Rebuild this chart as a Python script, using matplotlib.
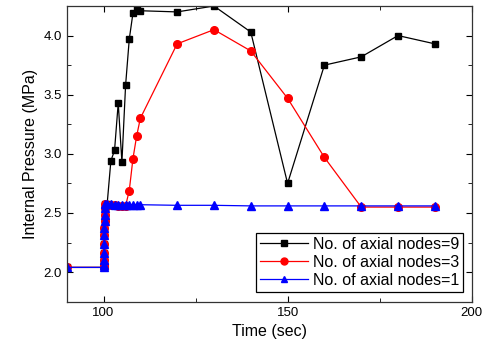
import numpy as np
import matplotlib
matplotlib.use('Agg')
import matplotlib.pyplot as plt
from matplotlib.ticker import MultipleLocator

plt.rcParams['font.family'] = ['Liberation Sans', 'DejaVu Sans']

# ── Data ──────────────────────────────────────────────────────────────────────
t_start   = [90.0, 100.0, 100.02, 100.05, 100.1, 100.15, 100.2, 100.25, 100.3, 100.35, 100.4, 100.5]
p_start   = [2.04, 2.04, 2.06, 2.10, 2.16, 2.24, 2.31, 2.37, 2.43, 2.48, 2.54, 2.58]

t_n9 = t_start + [101, 102, 103, 104, 105, 106, 107, 108, 109, 110, 120, 130, 140, 150, 160, 170, 180, 190]
p_n9 = p_start + [2.58, 2.94, 3.03, 3.43, 2.93, 3.58, 3.97, 4.19, 4.23, 4.21, 4.20, 4.25, 4.03, 2.75, 3.75, 3.82, 4.00, 3.93]

t_n3 = t_start + [101, 102, 103, 104, 105, 106, 107, 108, 109, 110, 120, 130, 140, 150, 160, 170, 180, 190]
p_n3 = p_start + [2.57, 2.57, 2.57, 2.56, 2.56, 2.56, 2.69, 2.96, 3.15, 3.30, 3.93, 4.05, 3.87, 3.47, 2.97, 2.55, 2.55, 2.55]

t_n1 = t_start + [101, 102, 103, 104, 105, 106, 107, 108, 109, 110, 120, 130, 140, 150, 160, 170, 180, 190]
p_n1 = p_start + [2.58, 2.575, 2.57, 2.57, 2.57, 2.57, 2.57, 2.57, 2.57, 2.57, 2.565, 2.565, 2.56, 2.56, 2.56, 2.56, 2.56, 2.56]

labels = ["No. of axial nodes=9", "No. of axial nodes=3", "No. of axial nodes=1"]

# ── Plot ──────────────────────────────────────────────────────────────────────
fig = plt.figure(figsize=(4.85, 3.53), dpi=100)
ax = fig.add_axes([0.1375, 0.1453, 0.835, 0.8377])

ax.plot(t_n9, p_n9, color='black', lw=0.9, marker='s', ms=5, label=labels[0])
ax.plot(t_n3, p_n3, color='red', lw=0.9, marker='o', ms=5.5, label=labels[1])
ax.plot(t_n1, p_n1, color='blue', lw=0.9, marker='^', ms=5.5, label=labels[2])

ax.set_xlim(90, 200)
ax.set_ylim(1.75, 4.25)
ax.xaxis.set_major_locator(MultipleLocator(50))
ax.xaxis.set_minor_locator(MultipleLocator(25))
ax.yaxis.set_major_locator(MultipleLocator(0.5))
ax.yaxis.set_minor_locator(MultipleLocator(0.25))
ax.yaxis.set_major_formatter(matplotlib.ticker.FormatStrFormatter('%.1f'))
ax.tick_params(which='both', direction='in', top=True, right=True, labelsize=9.5)
ax.tick_params(which='major', length=4)
ax.tick_params(which='minor', length=3)
for s in ax.spines.values():
    s.set_linewidth(0.9)
    s.set_color('#333333')

ax.set_xlabel("Time (sec)", fontsize=11.5)
ax.set_ylabel("Internal Pressure (MPa)", fontsize=11.5)

leg = ax.legend(loc='lower right', fontsize=11.5, fancybox=False, edgecolor='black',
                framealpha=1, handlelength=3.0, handletextpad=0.3, borderpad=0.25,
                labelspacing=0.2, borderaxespad=0, bbox_to_anchor=(0.979, 0.033))
leg.get_frame().set_linewidth(0.9)
for h in leg.legend_handles:
    h.set_markersize(5)

fig.savefig("out.png", dpi=100)
